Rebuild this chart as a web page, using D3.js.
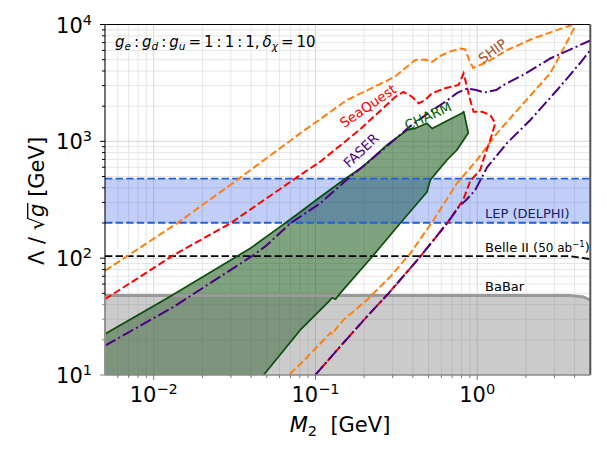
<!DOCTYPE html>
<html><head><meta charset="utf-8">
<script src="https://cdn.jsdelivr.net/npm/d3@7/dist/d3.min.js"></script>
<style>body{margin:0;background:#fff}svg{display:block;font-family:"DejaVu Sans",sans-serif}</style>
</head><body>
<svg id="c" width="607" height="455"></svg>
<script>
// ---------------- data ----------------
const xDomain = [0.005, 5];
const yDomain = [10, 1e4];
const xTickExps = [-2, -1, 0];
const yTickExps = [1, 2, 3, 4];

const lepRange = [201, 479];

const belleM = [0.005, 3.7, 4.3, 5];
const belleL = [104, 104, 101.5, 98];

const babarM = [0.005, 3.7, 4.5, 5];
const babarL = [47.9, 47.9, 46.8, 43.9];

const charmM = [0.005, 0.0121, 0.0396, 0.0606, 0.0806, 0.107, 0.149, 0.195, 0.282, 0.369, 0.414, 0.489, 0.527, 0.665, 0.804, 0.825, 0.880,
                0.749, 0.650, 0.513, 0.489, 0.334, 0.224, 0.142, 0.133, 0.1265, 0.1206, 0.0806, 0.0478, 0.005];
const charmL = [22.4, 45.4, 121.5, 186, 248.5, 334, 467, 603, 949, 1251, 1293, 1427, 1288, 1523, 1738, 1801, 1179,
                843, 692, 467, 368.5, 198.8, 102.9, 50.0, 44.5, 45.8, 42.4, 24.3, 10, 10];

const faserUpM = [0.005, 0.0133, 0.0415, 0.0502, 0.0699, 0.107, 0.164, 0.208, 0.277, 0.386, 0.500, 0.634, 0.752, 0.868, 0.986, 1.105, 1.31, 1.49, 1.92, 2.83, 4.33, 5];
const faserUpL = [17.8, 38.4, 106.4, 129.7, 198.8, 294.9, 498, 649, 912, 1350, 1750, 2180, 2600, 2834, 2750, 2618, 2750, 3096, 3697, 5118, 6678, 7300];
const faserLoM = [0.0998, 0.142, 0.208, 0.283, 0.444, 0.650, 0.785, 0.843, 0.972, 1.153, 1.53, 2.13, 3.12, 4.33, 5];
const faserLoL = [10, 17.5, 31.6, 50.0, 102.9, 198.8, 285, 308.5, 383, 603, 968, 1523, 2750, 4683, 6051];

const seaM = [0.005, 0.0133, 0.0298, 0.0806, 0.107, 0.189, 0.311, 0.349, 0.395, 0.434, 0.477, 0.525, 0.634, 0.767, 0.823, 0.864, 0.905, 0.949, 1.069, 1.203, 1.292,
              1.220, 1.105, 1.043, 0.905, 0.819, 0.650, 0.444, 0.283, 0.208, 0.142, 0.0998];
const seaL = [44.5, 106.4, 198.8, 515, 669.5, 1268, 2396, 2644, 2410, 2117, 2258, 2578, 2844, 3035, 3823, 2936, 2258, 1793, 1793, 1681, 1427,
              1089, 734, 568, 457.6, 314.7, 198.8, 102.9, 50.0, 31.6, 17.5, 10];

const shipM = [0.005, 0.01395, 0.0328, 0.0806, 0.1566, 0.2516, 0.311, 0.359, 0.414, 0.477, 0.527, 0.5905, 0.681, 0.785, 0.843, 0.892, 0.945, 1.153, 1.532, 2.218, 3.598, 3.864, 3.975,
               3.257, 2.825, 1.932, 1.323, 0.996, 0.749, 0.537, 0.386, 0.290, 0.208, 0.149, 0.1326, 0.1289, 0.1235, 0.1183, 0.0806, 0.0684];
const shipL = [78.1, 198.8, 467, 1172, 2258, 3096, 3589, 4243, 4969, 5018, 4777, 5378, 5875, 6233, 6111, 4969, 4243, 4777, 6051, 7590, 9614, 9903, 9336,
               5483, 3823, 2117, 1172, 692, 437, 212, 110.1, 69.4, 43.9, 29.6, 24.5, 22.4, 22.9, 21.4, 12.4, 10];

// ---------------- layout ----------------
const svg = d3.select('#c');
const L = 105, R = 590.3, T = 24.5, B = 375;
const x = d3.scaleLog().domain(xDomain).range([L, R]);
const y = d3.scaleLog().domain(yDomain).range([B, T]);
const zip = (a, b) => a.map((v, i) => [v, b[i]]);
const line = d3.line().x(d => x(d[0])).y(d => y(d[1]));

svg.append('defs').append('clipPath').attr('id', 'clip')
  .append('rect').attr('x', L).attr('y', T).attr('width', R - L).attr('height', B - T);

// grid
const gGrid = svg.append('g');
const xMinor = [], yMinor = [];
for (let e = -3; e <= 0; e++) for (let k = 1; k <= 9; k++) { const v = k * Math.pow(10, e); if (v > xDomain[0] * 1.001 && v < xDomain[1] * 0.999) xMinor.push(v); }
for (let e = 1; e <= 3; e++) for (let k = 1; k <= 9; k++) { const v = k * Math.pow(10, e); if (v > yDomain[0] * 1.001 && v < yDomain[1] * 0.999) yMinor.push(v); }
const isMaj = d => Math.abs(Math.log10(d) - Math.round(Math.log10(d))) < 1e-6;
gGrid.selectAll('.vx').data(xMinor).enter().append('line')
  .attr('x1', d => x(d)).attr('x2', d => x(d)).attr('y1', T).attr('y2', B)
  .attr('stroke', d => isMaj(d) ? '#cccccc' : '#e0e0e0').attr('stroke-width', 0.8);
gGrid.selectAll('.hy').data(yMinor).enter().append('line')
  .attr('y1', d => y(d)).attr('y2', d => y(d)).attr('x1', L).attr('x2', R)
  .attr('stroke', d => isMaj(d) ? '#cccccc' : '#e0e0e0').attr('stroke-width', 0.8);

const plot = svg.append('g').attr('clip-path', 'url(#clip)');

// CHARM fill
const charmPts = zip(charmM, charmL);
plot.append('path').attr('d', line(charmPts) + 'Z').attr('fill', 'rgb(0,72,0)').attr('fill-opacity', 0.5).attr('stroke', 'none');

// BaBar fill
const babarPts = zip(babarM, babarL);
const babarPoly = babarPts.concat([[xDomain[1], yDomain[0]], [xDomain[0], yDomain[0]]]);
plot.append('path').attr('d', line(babarPoly) + 'Z').attr('fill', '#7a7e7a').attr('fill-opacity', 0.4);

// LEP band
plot.append('rect').attr('x', L).attr('width', R - L)
  .attr('y', y(lepRange[1])).attr('height', y(lepRange[0]) - y(lepRange[1]))
  .attr('fill', 'rgb(30,80,230)').attr('fill-opacity', 0.28);
lepRange.forEach(v => plot.append('line').attr('x1', L).attr('x2', R).attr('y1', y(v)).attr('y2', y(v))
  .attr('stroke', '#1f5fe0').attr('stroke-width', 1.8).attr('stroke-dasharray', '7.4,3.2'));

// Belle II
plot.append('path').attr('d', line(zip(belleM, belleL))).attr('fill', 'none')
  .attr('stroke', '#000').attr('stroke-width', 1.8).attr('stroke-dasharray', '7.4,3.2');

// BaBar line
plot.append('path').attr('d', line(babarPts)).attr('fill', 'none').attr('stroke', '#9a9a9a').attr('stroke-width', 2.8);

// CHARM edge
plot.append('path').attr('d', line(charmPts.slice(0, charmPts.length - 1))).attr('fill', 'none')
  .attr('stroke', '#0b4d0b').attr('stroke-width', 1.7).attr('stroke-linejoin', 'round');

// SHIP
plot.append('path').attr('d', line(zip(shipM, shipL))).attr('fill', 'none')
  .attr('stroke', '#ff7f0e').attr('stroke-width', 2).attr('stroke-dasharray', '7.4,3.2');
// SeaQuest
plot.append('path').attr('d', line(zip(seaM, seaL))).attr('fill', 'none')
  .attr('stroke', '#ff0000').attr('stroke-width', 2).attr('stroke-dasharray', '7.4,3.2');
// FASER
[[faserUpM, faserUpL], [faserLoM, faserLoL]].forEach(([m, l]) =>
  plot.append('path').attr('d', line(zip(m, l))).attr('fill', 'none')
    .attr('stroke', '#4b0082').attr('stroke-width', 2).attr('stroke-dasharray', '12,3.2,2,3.2'));

// ---------------- labels in plot ----------------
function rotLabel(txt, cx, cy, ang, col) {
  svg.append('text').attr('transform', `translate(${cx},${cy}) rotate(${ang})`)
    .attr('text-anchor', 'middle').attr('dy', '0.35em').attr('font-size', 13.5).attr('fill', col).text(txt);
}
rotLabel('SHIP', 492.5, 51, -36, '#a0522d');
rotLabel('SeaQuest', 368, 106, -34.5, '#ff0000');
rotLabel('CHARM', 428, 116, -24, '#006400');
rotLabel('FASER', 361, 150.5, -43.5, '#4b0082');

svg.append('text').attr('x', 485).attr('y', 218.3).attr('font-size', 13).attr('fill', '#14206e').text('LEP (DELPHI)');
const bl = svg.append('text').attr('x', 485).attr('y', 252.3).attr('font-size', 13).attr('fill', '#000');
bl.append('tspan').text('Belle II (');
bl.append('tspan').attr('font-size', 12).text('50 ab');
bl.append('tspan').attr('font-size', 8.5).attr('dy', -5).text('\u22121');
bl.append('tspan').attr('dy', 5).text(')');
svg.append('text').attr('x', 485).attr('y', 291).attr('font-size', 13).attr('fill', '#000').text('BaBar');

// annotation
const ann = svg.append('text').attr('x', 115).attr('y', 46.5).attr('font-size', 15).attr('fill', '#000');
const segs = [['g','i',0],['e','i',1],['\u2009:\u2009','n',0],['g','i',0],['d','i',1],['\u2009:\u2009','n',0],['g','i',0],['u','i',1],
  ['\u2009=\u2009','n',0],['1','n',0],['\u2009:\u2009','n',0],['1','n',0],['\u2009:\u2009','n',0],['1','n',0],[',\u2009','n',0],
  ['\u03b4','i',0],['\u03c7','i',1],['\u2009=\u2009','n',0],['10','n',0]];
let cur = 0;
segs.forEach(([t, s, sb]) => {
  const target = sb ? 3.5 : 0;
  const ts = ann.append('tspan').attr('dy', target - cur).text(t);
  cur = target;
  if (s === 'i') ts.attr('font-style', 'italic');
  if (sb) ts.attr('font-size', 10.5);
});

// ---------------- axes ----------------
const ax = svg.append('g');
ax.append('line').attr('x1', L).attr('x2', R).attr('y1', T).attr('y2', T).attr('stroke', '#000').attr('stroke-width', 1.1);
ax.append('line').attr('x1', L).attr('x2', L).attr('y1', T).attr('y2', B).attr('stroke', '#000').attr('stroke-width', 1.1);
ax.append('line').attr('x1', R).attr('x2', R).attr('y1', T).attr('y2', B).attr('stroke', '#555').attr('stroke-width', 2);
ax.append('line').attr('x1', L).attr('x2', R).attr('y1', B).attr('y2', B).attr('stroke', '#888').attr('stroke-width', 1.6);
ax.append('line').attr('x1', L).attr('x2', L).attr('y1', y(babarL[0])).attr('y2', B).attr('stroke', '#999').attr('stroke-width', 1.8);

const yBab = y(babarL[0]);
xMinor.forEach(v => {
  ax.append('line').attr('x1', x(v)).attr('x2', x(v)).attr('y1', B).attr('y2', B + (isMaj(v) ? 5 : 3))
    .attr('stroke', '#777').attr('stroke-width', 1);
});
yMinor.concat([yDomain[0], yDomain[1]]).forEach(v => {
  ax.append('line').attr('y1', y(v)).attr('y2', y(v)).attr('x1', L).attr('x2', L - (isMaj(v) ? 5 : 3))
    .attr('stroke', y(v) > yBab + 1 ? '#888' : '#000').attr('stroke-width', 1);
});
xTickExps.forEach(e => {
  const t = ax.append('text').attr('x', x(Math.pow(10, e))).attr('y', 402).attr('text-anchor', 'middle').attr('font-size', 21);
  t.append('tspan').text('10');
  t.append('tspan').attr('font-size', 14.5).attr('dy', -8).text(e < 0 ? '\u2212' + (-e) : String(e));
});
yTickExps.forEach(e => {
  const t = ax.append('text').attr('x', 92).attr('y', y(Math.pow(10, e)) + 8).attr('text-anchor', 'end').attr('font-size', 21);
  t.append('tspan').text('10');
  t.append('tspan').attr('font-size', 14.5).attr('dy', -8).text(String(e));
});

const xl = ax.append('text').attr('x', 340).attr('y', 432).attr('text-anchor', 'middle').attr('font-size', 21);
xl.append('tspan').attr('font-style', 'italic').text('M');
xl.append('tspan').attr('font-size', 14.5).attr('dy', 4).text('2');
xl.append('tspan').attr('dy', -4).text('\u00a0\u00a0[GeV]');

const yg = ax.append('g').attr('transform', 'translate(43.5,201) rotate(-90)');
const yt = yg.append('text').attr('text-anchor', 'middle').attr('font-size', 21);
yt.append('tspan').text('\u039b\u00a0/\u00a0');
yt.append('tspan').text('\u221a');
yt.append('tspan').attr('font-style', 'italic').text('g');
yt.append('tspan').text('\u00a0[GeV]');
const node = yt.node();
const full = node.getComputedTextLength();
const idxRad = 4;
const start = -full / 2;
const radEnd = start + node.getSubStringLength(0, idxRad + 1);
const gEnd = start + node.getSubStringLength(0, idxRad + 2);
yg.append('line').attr('x1', radEnd - 0.8).attr('x2', gEnd + 0.5).attr('y1', -15.8).attr('y2', -15.8)
  .attr('stroke', '#000').attr('stroke-width', 1.3);
</script>
</body></html>
